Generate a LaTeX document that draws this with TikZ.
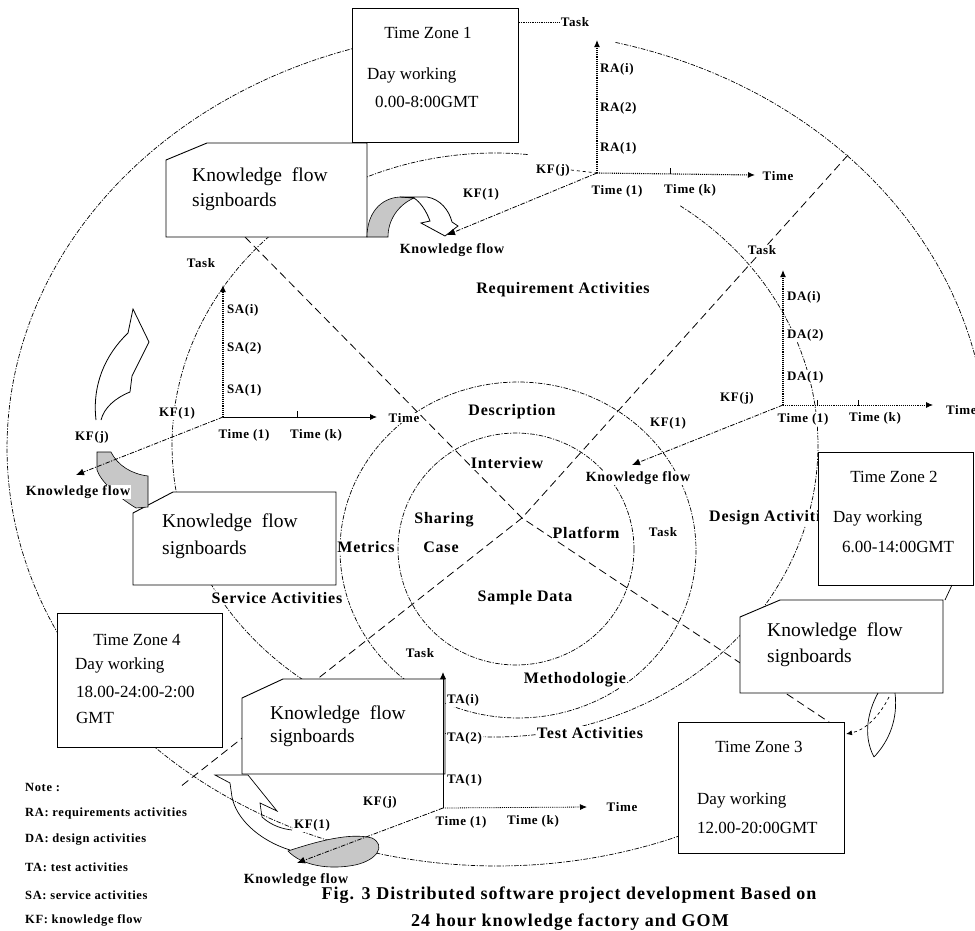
\documentclass[tikz,border=0pt]{standalone}
\usepackage{fontspec}
\setmainfont{Liberation Serif}
\newfontfamily\wfont[LetterSpace=5.0]{Liberation Serif}
\newfontfamily\cfont[LetterSpace=6.0]{Liberation Serif}
\usetikzlibrary{arrows.meta}
\begin{document}
\begin{tikzpicture}[x=1pt,y=-1pt,
  ring/.style={line width=0.7pt, dash pattern=on 4.5pt off 1.5pt on 1.2pt off 1.5pt},
  diag/.style={line width=0.8pt, dash pattern=on 8pt off 4.5pt},
  boxd/.style={draw, line width=0.9pt, fill=white},
  tzt/.style={font=\fontsize{17}{20}\selectfont, inner sep=0pt},
  sbt/.style={font=\fontsize{19.5}{22}\selectfont, inner sep=0pt, anchor=west},
  axl/.style={font=\wfont\bfseries\fontsize{13}{14}\selectfont, inner sep=0.8pt, fill=white},
  kfl/.style={font=\wfont\bfseries\fontsize{14}{15}\selectfont, inner sep=0.8pt, fill=white},
  cl/.style={font=\wfont\bfseries\fontsize{16}{18}\selectfont, inner sep=1pt, fill=white},
  notet/.style={font=\wfont\bfseries\fontsize{12.5}{14}\selectfont, inner sep=0pt, anchor=west},
  capt/.style={font=\cfont\bfseries\fontsize{18}{20}\selectfont, inner sep=0pt},
  axd/.style={line width=1.1pt, densely dotted, -{Latex[length=7pt,width=6pt]}},
  axs/.style={line width=0.9pt, -{Latex[length=7pt,width=6pt]}},
  kfa/.style={line width=0.8pt, dash pattern=on 4.5pt off 1.5pt on 1.2pt off 1.5pt, -{Latex[length=8pt,width=7pt]}},
  tk/.style={line width=0.7pt},
  grayf/.style={fill=black!22, draw=black, line width=0.6pt},
  wf/.style={fill=white, draw=black, line width=0.8pt}
]
\useasboundingbox (0,0) rectangle (975,930);

% ---- rings (dash-dot ellipses)
\draw[ring] plot[domain=68:272,samples=170] ({497+490*cos(\x)},{448+418*sin(\x)});
\draw[ring] plot[domain=284:362,samples=70] ({497+490*cos(\x)},{448+418*sin(\x)});
\draw[ring] plot[domain=305:636,samples=220] ({495+323*cos(\x)},{445+292*sin(\x)});
\draw[ring] plot[domain=0:360,samples=160] ({518+178*cos(\x)},{550+168*sin(\x)});
\draw[ring] plot[domain=0:360,samples=120] ({516+118*cos(\x)},{549+116*sin(\x)});

% ---- diagonals
\coordinate (C) at (522,518);
\coordinate (D1a) at (848,155); \coordinate (D1b) at (180,787);
\coordinate (D2a) at (245,237); \coordinate (D2b) at (838,728);
\draw[diag] (D1a) -- (C) -- (D1b);
\draw[diag] (D2a) -- (C) -- (D2b);

% ---- centre labels
\node[cl] (reqA) at (563,290) {Requirement Activities};
\node[cl] (desc) at (512,412) {Description};
\node[cl] (intv) at (507,463) {Interview};
\node[cl] (shar) at (444,520) {Sharing};
\node[cl] (case) at (441,547) {Case};
\node[cl] (plat) at (586,533) {Platform};
\node[axl] (taskc) at (663,532) {Task};
\node[cl] (metr) at (366,547) {Metrics};
\node[cl] (samp) at (525,598) {Sample Data};
\node[cl] (serv) at (277,598) {Service Activities};
\node[cl, anchor=west] (desA) at (708,518) {Design Activities};
\node[cl] (meth) at (575,680) {Methodologie};
\node[cl] (testA) at (590,733) {Test Activities};

% ---- time zone boxes
\node[boxd, anchor=north west, minimum width=166pt, minimum height=134pt, inner sep=0pt] (TZ1) at (352,8) {};
\node[boxd, anchor=north west, minimum width=155pt, minimum height=133pt, inner sep=0pt] (TZ2) at (818,452) {};
\node[boxd, anchor=north west, minimum width=166pt, minimum height=131pt, inner sep=0pt] (TZ3) at (678,722) {};
\node[boxd, anchor=north west, minimum width=165pt, minimum height=134pt, inner sep=0pt] (TZ4) at (57,613) {};

\node[tzt] (tz1a) at (428,33) {Time Zone 1};
\node[tzt, anchor=west] (tz1b) at (367,75) {Day working};
\node[tzt, anchor=west] (tz1c) at (375,102) {0.00-8:00GMT};
\node[tzt] (tz2a) at (894,477) {Time Zone 2};
\node[tzt, anchor=west] (tz2b) at (833,518) {Day working};
\node[tzt, anchor=west] (tz2c) at (842,547) {6.00-14:00GMT};
\node[tzt] (tz3a) at (759,747) {Time Zone 3};
\node[tzt, anchor=west] (tz3b) at (697,800) {Day working};
\node[tzt, anchor=west] (tz3c) at (697,828) {12.00-20:00GMT};
\node[tzt] (tz4a) at (137,640) {Time Zone 4};
\node[tzt, anchor=west] (tz4b) at (75,665) {Day working};
\node[tzt, anchor=west] (tz4c) at (76,692) {18.00-24:00-2:00};
\node[tzt, anchor=west] (tz4d) at (76,718) {GMT};

% ---- signboards
\draw[boxd] (166,160) -- (207,143) -- (367,143) -- (367,237) -- (166,237) -- cycle;
\draw[boxd] (133,513) -- (173,492) -- (336,492) -- (336,585) -- (133,585) -- cycle;
\draw[boxd] (242,698) -- (283,679) -- (445,679) -- (445,774) -- (242,774) -- cycle;
\draw[boxd] (740,617) -- (780,600) -- (943,600) -- (943,693) -- (740,693) -- cycle;
\node[sbt] (sb1a) at (192,177) {Knowledge\ \ flow};
\node[sbt] (sb1b) at (192,202) {signboards};
\node[sbt] (sb3a) at (162,523) {Knowledge\ \ flow};
\node[sbt] (sb3b) at (162,550) {signboards};
\node[sbt] (sb4a) at (270,715) {Knowledge\ \ flow};
\node[sbt] (sb4b) at (270,738) {signboards};
\node[sbt] (sb2a) at (767,632) {Knowledge\ \ flow};
\node[sbt] (sb2b) at (767,658) {signboards};

\coordinate (tz2s) at (952,585); \coordinate (sb2n) at (945,600);
\draw[line width=0.7pt] (tz2s) -- (sb2n);

% ---- curved knowledge-flow arrows
% left (SA)
\draw[grayf] (97,452) -- (111,452) .. controls (118,466) and (132,474) .. (148,476) -- (148,507) -- (136,508) .. controls (118,497) and (101,482) .. (97,470) -- cycle;
\draw[wf] (96,420) .. controls (92,385) and (105,355) .. (128,333) -- (133,309) -- (149,342) -- (132,376) -- (130,392) .. controls (115,398) and (104,408) .. (101,420);
% top (RA)
\draw[grayf] (367,237) .. controls (367,214) and (380,198) .. (400,197) -- (414,198) .. controls (398,205) and (388,220) .. (388,237) -- cycle;
\draw[wf] (400,197) -- (427,197) .. controls (440,199) and (449,210) .. (452,222) -- (458,226) -- (445,236) -- (421,223) -- (430,221) .. controls (426,210) and (420,202) .. (414,198) -- cycle;
% bottom (TA)
\draw[grayf] (288,851) .. controls (315,842) and (350,832) .. (372,838) .. controls (386,845) and (378,860) .. (355,865) .. controls (330,870) and (302,866) .. (288,851) -- cycle;
\draw[line width=0.7pt] (290,850) .. controls (258,840) and (236,818) .. (232,797) -- (230,783) -- (215,775) -- (248,775) -- (277,811) -- (260,803) -- (262,817) .. controls (272,826) and (283,829) .. (292,830);
% right (DA -> TZ3)
\draw[line width=0.7pt] (878,693) .. controls (866,715) and (864,738) .. (874,757);
\draw[line width=0.7pt] (895,693) .. controls (898,718) and (890,740) .. (874,757);
\draw[line width=0.7pt, dashed, -{Latex[length=6pt,width=5pt]}] (889,697) .. controls (880,715) and (866,730) .. (846,734);

% ---- RA axes
\coordinate (O1) at (597,173); \coordinate (Y1) at (597,40);
\coordinate (X1) at (755,175); \coordinate (K1) at (447,235);
\draw[axd] (O1) -- (Y1);
\draw[axd] (O1) -- (X1);
\draw[kfa] (O1) -- (K1);
\draw[tk] (670,174) -- (670,168);
\node[axl, anchor=west] (ra3) at (599,69) {RA(i)};
\node[axl, anchor=west] (ra2) at (599,108) {RA(2)};
\node[axl, anchor=west] (ra1) at (599,148) {RA(1)};
\node[axl] (time1) at (778,176) {Time};
\node[axl] (t11) at (617,191) {Time (1)};
\node[axl] (t1k) at (690,190) {Time (k)};
\node[axl] (kfj1) at (553,170) {KF(j)};
\node[axl] (kf11) at (481,194) {KF(1)};
\node[axl] (task1) at (575,22) {Task};
\node[kfl] (kfw1) at (452,250) {Knowledge flow};
\draw[line width=0.7pt, dashed] (kfj1.east) -- (O1);
\draw[line width=0.8pt, densely dotted] (TZ1.east |- task1.west) -- (task1.west);

% ---- DA axes
\coordinate (O2) at (783,405); \coordinate (Y2) at (783,270);
\coordinate (X2) at (933,405); \coordinate (K2) at (632,465);
\draw[axd] (O2) -- (Y2);
\draw[axd, line width=0.8pt] (O2) -- (X2);
\draw[kfa] (O2) -- (K2);
\draw[tk] (817,406) -- (817,400);
\draw[tk] (858,406) -- (858,400);
\node[axl, anchor=west] (da3) at (786,297) {DA(i)};
\node[axl, anchor=west] (da2) at (786,335) {DA(2)};
\node[axl, anchor=west] (da1) at (786,377) {DA(1)};
\node[axl, anchor=west] (time2) at (945,410) {Time};
\node[axl] (t21) at (803,419) {Time (1)};
\node[axl] (t2k) at (875,418) {Time (k)};
\node[axl] (kfj2) at (737,398) {KF(j)};
\node[axl] (kf12) at (668,423) {KF(1)};
\node[axl] (task2) at (762,250) {Task};
\node[kfl] (kfw2) at (638,478) {Knowledge flow};

% ---- SA axes
\coordinate (O3) at (223,417); \coordinate (Y3) at (223,285);
\coordinate (X3) at (377,417); \coordinate (K3) at (76,475);
\draw[axd] (O3) -- (Y3);
\draw[axs] (O3) -- (X3);
\draw[kfa] (O3) -- (K3);
\draw[tk] (297,418) -- (297,411);
\node[axl, anchor=west] (sa3) at (226,310) {SA(i)};
\node[axl, anchor=west] (sa2) at (226,348) {SA(2)};
\node[axl, anchor=west] (sa1) at (226,390) {SA(1)};
\node[axl] (time3) at (404,418) {Time};
\node[axl] (t31) at (244,435) {Time (1)};
\node[axl] (t3k) at (316,435) {Time (k)};
\node[axl] (kf13) at (177,413) {KF(1)};
\node[axl] (kfj3) at (92,437) {KF(j)};
\node[axl] (task3) at (201,263) {Task};
\node[kfl] (kfw3) at (78,492) {Knowledge flow};

% ---- TA axes
\coordinate (O4) at (443,808); \coordinate (Y4) at (443,672);
\coordinate (X4) at (587,807); \coordinate (K4) at (297,863);
\draw[axs] (O4) -- (Y4);
\draw[axd, line width=0.8pt] (O4) -- (X4);
\draw[kfa] (O4) -- (K4);
\node[axl, anchor=west] (ta3) at (446,700) {TA(i)};
\node[axl, anchor=west] (ta2) at (446,738) {TA(2)};
\node[axl, anchor=west] (ta1) at (446,780) {TA(1)};
\node[axl] (time4) at (622,807) {Time};
\node[axl] (t41) at (461,822) {Time (1)};
\node[axl] (t4k) at (533,821) {Time (k)};
\node[axl] (kfj4) at (380,802) {KF(j)};
\node[axl] (kf14) at (312,825) {KF(1)};
\node[axl] (task4) at (420,653) {Task};
\node[kfl] (kfw4) at (296,880) {Knowledge flow};

% ---- note and caption
\node[notet] (n0) at (25,787) {Note :};
\node[notet] (n1) at (25,813) {RA: requirements activities};
\node[notet] (n2) at (25,840) {DA: design activities};
\node[notet] (n3) at (25,867) {TA: test activities};
\node[notet] (n4) at (25,895) {SA: service activities};
\node[notet] (n5) at (25,920) {KF: knowledge flow};
\node[capt] (cap1) at (569,895) {Fig. 3 Distributed software project development Based on};
\node[capt] (cap2) at (570,922) {24 hour knowledge factory and GOM};
\end{tikzpicture}
\end{document}
